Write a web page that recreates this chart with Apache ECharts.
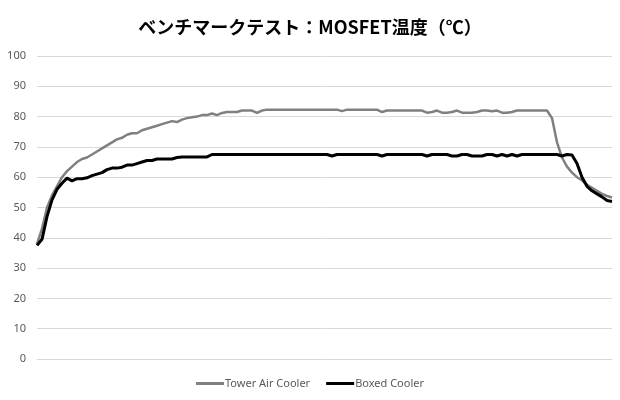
<!DOCTYPE html>
<html>
<head>
<meta charset="utf-8">
<script src="https://cdn.jsdelivr.net/npm/echarts@6/dist/echarts.min.js"></script>
<style>html,body{margin:0;padding:0;background:#fff}#c{width:620px;height:400px}</style>
</head>
<body>
<div id="c"></div>
<script>
const titleText = 'ベンチマークテスト：MOSFET温度（℃）';
const seriesNames = ['Tower Air Cooler', 'Boxed Cooler'];
const yTicks = [0, 10, 20, 30, 40, 50, 60, 70, 80, 90, 100];

const towerAirCooler = [
  38,43,50,54,57,60,62,63.5,65,66,
  66.5,67.5,68.5,69.5,70.5,71.5,72.5,73,74,74.5,
  74.5,75.5,76,76.5,77,77.5,78,78.5,78.2,79,
  79.5,79.8,80,80.5,80.5,81,80.5,81.2,81.5,81.5,
  81.5,82,82,82,81.2,82,82.3,82.3,82.3,82.3,
  82.3,82.3,82.3,82.3,82.3,82.3,82.3,82.3,82.3,82.3,
  82.3,81.8,82.3,82.3,82.3,82.3,82.3,82.3,82.3,81.5,
  82,82,82,82,82,82,82,82,81.3,81.5,
  82,81.3,81.3,81.5,82,81.3,81.3,81.3,81.5,82,
  82,81.8,82,81.3,81.3,81.5,82,82,82,82,
  82,82,82,79.5,71.5,66.5,63.5,61.5,60,59,
  57.5,56.5,55.5,54.5,53.8,53.3
];
const boxedCooler = [
  37.5,39.5,47,52.5,56,58,59.7,58.8,59.5,59.5,
  59.8,60.5,61,61.5,62.5,63,63,63.3,64,64,
  64.5,65,65.5,65.5,66,66,66,66,66.5,66.7,
  66.7,66.7,66.7,66.7,66.7,67.5,67.5,67.5,67.5,67.5,
  67.5,67.5,67.5,67.5,67.5,67.5,67.5,67.5,67.5,67.5,
  67.5,67.5,67.5,67.5,67.5,67.5,67.5,67.5,67.5,67,
  67.5,67.5,67.5,67.5,67.5,67.5,67.5,67.5,67.5,67,
  67.5,67.5,67.5,67.5,67.5,67.5,67.5,67.5,67,67.5,
  67.5,67.5,67.5,67,67,67.5,67.5,67,67,67,
  67.5,67.5,67,67.5,67,67.5,67,67.5,67.5,67.5,
  67.5,67.5,67.5,67.5,67.5,67,67.5,67.3,64.5,60,
  57,55.5,54.5,53.5,52.3,52
];
const categories = towerAirCooler.map((_, i) => String(i + 1));

const chart = echarts.init(document.getElementById('c'), null, {renderer: 'canvas'});
chart.setOption({
  animation: false,
  backgroundColor: '#ffffff',
  title: {
    text: titleText,
    left: 'center',
    top: 13,
    textStyle: {fontFamily: '"Noto Sans CJK JP", sans-serif', fontSize: 18, fontWeight: 'bold', color: '#000000'}
  },
  legend: {
    data: seriesNames,
    bottom: 6,
    left: 'center',
    icon: 'rect',
    itemWidth: 28,
    itemHeight: 3,
    itemGap: 16,
    textStyle: {fontFamily: '"Noto Sans", sans-serif', fontSize: 11, color: '#595959', padding: [0,0,0,-4]}
  },
  grid: {left: 37, right: 8, top: 56, bottom: 41, containLabel: false},
  xAxis: {
    type: 'category',
    data: categories,
    boundaryGap: false,
    axisLine: {lineStyle: {color: '#d9d9d9'}},
    axisTick: {show: false},
    axisLabel: {show: false}
  },
  yAxis: {
    type: 'value',
    min: yTicks[0],
    max: yTicks[yTicks.length - 1],
    interval: 10,
    axisLine: {show: false},
    axisTick: {show: false},
    axisLabel: {fontFamily: '"Noto Sans", sans-serif', fontSize: 11, color: '#595959', margin: 11},
    splitLine: {lineStyle: {color: '#d9d9d9', width: 1}}
  },
  series: [
    {
      name: seriesNames[0], type: 'line', data: towerAirCooler,
      showSymbol: false, symbol: 'none',
      lineStyle: {color: '#808080', width: 2.5},
      itemStyle: {color: '#808080'}
    },
    {
      name: seriesNames[1], type: 'line', data: boxedCooler,
      showSymbol: false, symbol: 'none',
      lineStyle: {color: '#000000', width: 3},
      itemStyle: {color: '#000000'}
    }
  ]
});
</script>
</body>
</html>
